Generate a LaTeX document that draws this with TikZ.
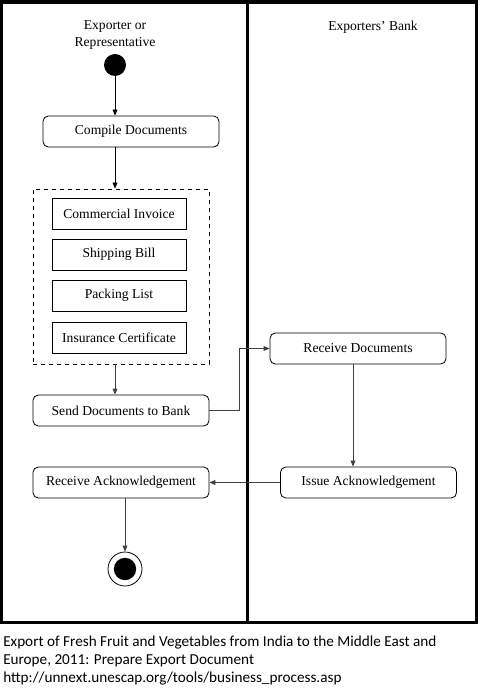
\documentclass[tikz,border=0pt]{standalone}
\usepackage{fontspec}
\setmainfont{Liberation Serif}
\newfontfamily\notefont{Carlito}
\usetikzlibrary{arrows.meta,positioning}

\begin{document}
\begin{tikzpicture}[x=0.75pt,y=-0.75pt,
    font=\fontsize{10.2pt}{12.4pt}\selectfont,
    act/.style={draw, rounded corners=4pt, line width=0.6pt, minimum width=132pt, minimum height=23.25pt, inner sep=0pt},
    doc/.style={draw, line width=0.6pt, minimum width=100.5pt, minimum height=23.25pt, inner sep=0pt},
    initstate/.style={circle, fill, minimum size=16.5pt, inner sep=0pt},
    finalstate/.style={circle, draw, line width=0.6pt, minimum size=25.5pt, inner sep=0pt,
        path picture={\fill (path picture bounding box.center) circle (8.4pt);}},
    flow/.style={draw=black!75, line width=0.6pt, -{Triangle[length=4.5pt,width=3.6pt]}}]
    \useasboundingbox (0,0) rectangle (482,691);
    % Swimlanes
    \draw[line width=2.5pt] (1.5,2) rectangle (476.5,622.5);
    \draw[line width=2.6pt] (247.5,2) -- (247.5,622.5);
    \node[align=center] (lanea) at (115,35) {Exporter or\\Representative};
    \node (laneb) at (373,27) {Exporters’ Bank};

    \node[initstate] (start) at (115,65) {};
    \node[act] (compile) at (131,131.5) {Compile Documents};
    \node[draw, dashed, line width=0.6pt, minimum width=132pt, minimum height=131.25pt] (docs) at (121,276.5) {};
    \node[doc] (invoice) at (119,213.5) {Commercial Invoice};
    \node[doc] (bill) at (119,254.5) {Shipping Bill};
    \node[doc] (packing) at (119,295.5) {Packing List};
    \node[doc] (insurance) at (119,337.5) {Insurance Certificate};
    \node[act] (send) at (121,410.5) {Send Documents to Bank};
    \node[act] (recdocs) at (358,348.5) {Receive Documents};
    \node[act] (issue) at (368.5,482.5) {Issue Acknowledgement};
    \node[act] (recack) at (121,482.5) {Receive Acknowledgement};
    \node[finalstate] (end) at (125,569) {};

    \draw[flow, draw=black] (start.south) -- (start.south |- compile.north);
    \draw[flow, draw=black] (compile.south -| start) -- (docs.north -| start);
    \draw[flow] (docs.south -| start) -- (send.north -| start);
    \draw[flow] (send.east) -- ++(30,0) |- (recdocs.west);
    \draw[flow] ([xshift=-3.75pt]recdocs.south) -- ([xshift=-3.75pt]recdocs.south |- issue.north);
    \draw[flow] (issue.west) -- (recack.east);
    \draw[flow] (recack.south -| end) -- (end.north);

    \node[anchor=north west, align=left, inner sep=0pt, font=\notefont\fontsize{11.4pt}{13.5pt}\selectfont] (note) at (3,636)
        {Export of Fresh Fruit and Vegetables from India to the Middle East and\\
         Europe, 2011: Prepare Export Document\\
         http://unnext.unescap.org/tools/business\_process.asp};
\end{tikzpicture}
\end{document}
